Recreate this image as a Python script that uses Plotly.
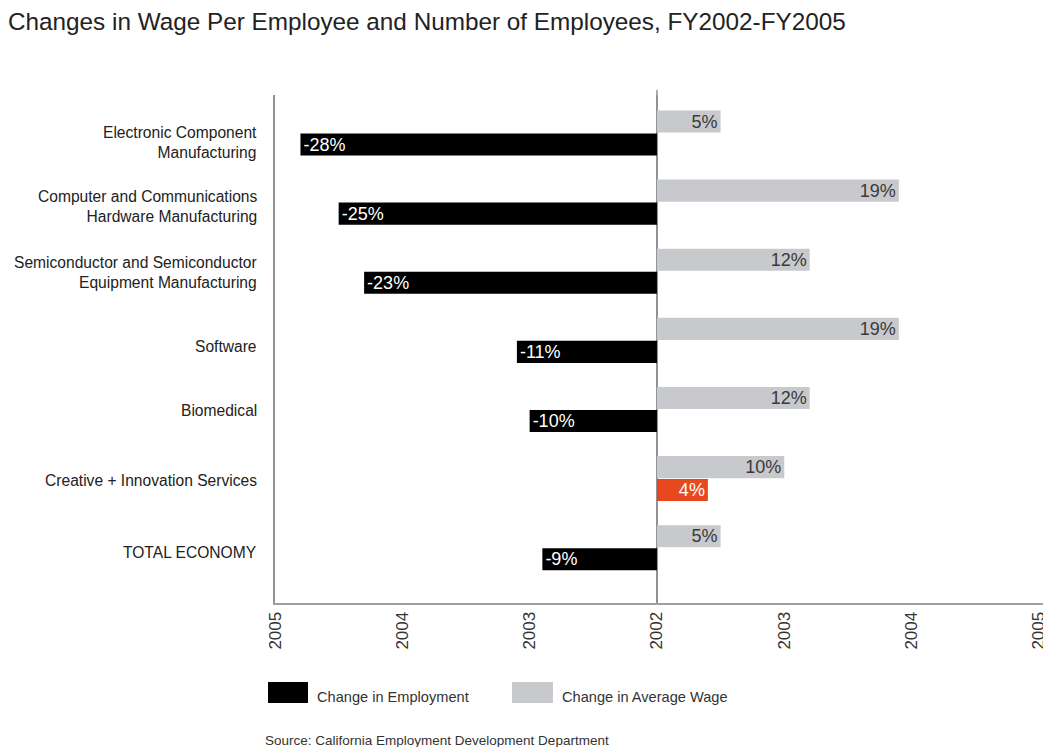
import plotly.graph_objects as go

categories = [
    "Electronic Component<br>Manufacturing",
    "Computer and Communications<br>Hardware Manufacturing",
    "Semiconductor and Semiconductor<br>Equipment Manufacturing",
    "Software",
    "Biomedical",
    "Creative + Innovation Services",
    "TOTAL ECONOMY",
]
employment_change = [-28, -25, -23, -11, -10, 4, -9]
wage_change = [5, 19, 12, 19, 12, 10, 5]

tick_vals = [-30, -20, -10, 0, 10, 20, 30]
tick_text = ["2005", "2004", "2003", "2002", "2003", "2004", "2005"]

# style: small downward pixel nudges of the category labels (as in the original layout)
label_nudge = [9, 4, 1, 6, 1, 2, 5]

BLACK = "#000000"
GRAY = "#c7c9cc"
ORANGE = "#e8481d"
FONT = "Arial, Liberation Sans, sans-serif"

emp_colors = [ORANGE if v > 0 else BLACK for v in employment_change]

fig = go.Figure()
fig.add_trace(go.Bar(
    y=categories, x=wage_change, orientation="h",
    name="Change in Average Wage",
    marker=dict(color=GRAY, line=dict(width=0)),
    text=[f"{v}%" for v in wage_change],
    textposition="inside", insidetextanchor="end", constraintext="none",
    textfont=dict(color="#3a3a3a", size=18, family=FONT),
    cliponaxis=False,
))
fig.add_trace(go.Bar(
    y=categories, x=employment_change, orientation="h",
    name="Change in Employment",
    marker=dict(color=emp_colors, line=dict(width=0)),
    text=[f"{v}%" for v in employment_change],
    textposition="inside", insidetextanchor="end", constraintext="none",
    textfont=dict(color="#ffffff", size=18, family=FONT),
    cliponaxis=False,
))

fig.update_layout(
    width=1043, height=739,
    margin=dict(l=267, r=0, t=87, b=144, autoexpand=False),
    paper_bgcolor="white", plot_bgcolor="white",
    barmode="group", bargap=0.335, bargroupgap=0.04,
    showlegend=False,
    font=dict(family=FONT, color="#2a2a2a"),
    title=dict(
        text="Changes in Wage Per Employee and Number of Employees, FY2002-FY2005",
        x=0, xref="container", xanchor="left",
        y=1 - 13 / 739, yref="container", yanchor="middle",
        font=dict(size=24.3, color="#222222", family=FONT),
    ),
    xaxis=dict(
        range=[-30, 30.95], tickmode="array", tickvals=tick_vals, ticktext=tick_text,
        tickangle=-90, tickfont=dict(size=17, color="#333333"),
        showgrid=False, zeroline=True, zerolinecolor="#8f9398", zerolinewidth=1.5,
        showline=True, linecolor="#a0a0a0", linewidth=2, ticks="",
        automargin=False, fixedrange=True,
    ),
    yaxis=dict(
        type="category", range=[6.8, -0.55],
        showgrid=False, zeroline=False, showticklabels=False,
        showline=True, linecolor="#8f9398", linewidth=1.5, ticks="",
        automargin=False, fixedrange=True,
    ),
)

# zero line extends slightly above the plot frame, as in the original
fig.add_shape(type="line", xref="x", yref="paper", x0=0, x1=0, y0=1, y1=1.01,
              line=dict(color="#8f9398", width=1.5))

# Category labels (right aligned, left of the axis)
for cat, dy in zip(categories, label_nudge):
    fig.add_annotation(xref="paper", yref="y", x=0, y=cat, xshift=-16, yshift=-dy,
                       text=cat, showarrow=False, xanchor="right", yanchor="middle",
                       align="right", font=dict(size=15.6, color="#222222", family=FONT))

# Legend drawn manually (wide swatches like the original)
legend_items = [("Change in Employment", BLACK, -0.009, 0.0425),
                ("Change in Average Wage", GRAY, 0.3054, 0.3582)]
for label, color, x0, x1 in legend_items:
    fig.add_shape(type="rect", xref="paper", yref="paper",
                  x0=x0, x1=x1, y0=-0.1969, y1=-0.1555,
                  fillcolor=color, line=dict(width=0))
    fig.add_annotation(xref="paper", yref="paper", x=x1 + 0.009, y=-0.185,
                       text=label, showarrow=False, xanchor="left", yanchor="middle",
                       font=dict(size=14.6, color="#333333", family=FONT))

fig.add_annotation(xref="paper", yref="paper", x=-0.0155, y=-0.2697,
                   text="Source: California Employment Development Department",
                   showarrow=False, xanchor="left", yanchor="middle",
                   font=dict(size=13.5, color="#333333", family=FONT))

fig.write_html("out.html")
